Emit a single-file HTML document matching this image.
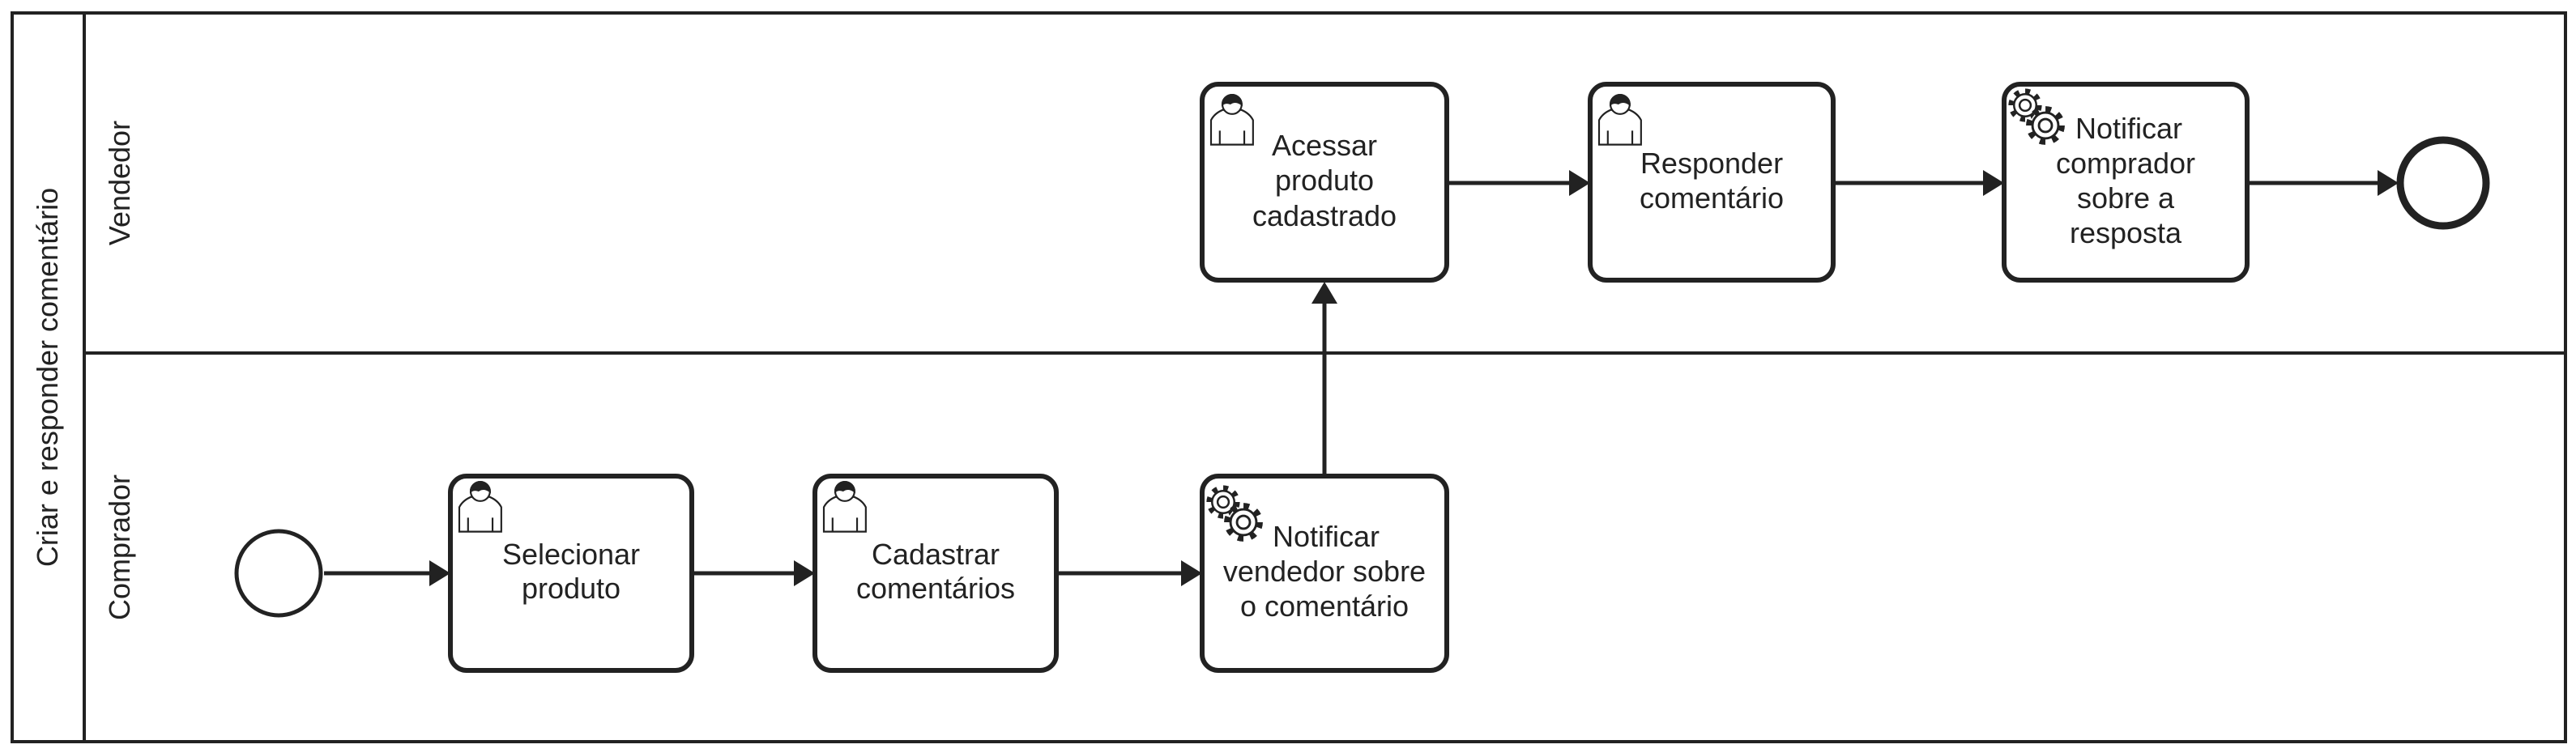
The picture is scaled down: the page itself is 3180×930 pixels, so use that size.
<!DOCTYPE html>
<html><head><meta charset="utf-8"><style>
html,body{margin:0;padding:0;background:#fff;}
svg{display:block;}
text{font-family:"Liberation Sans",Arial,sans-serif;fill:#222;}
</style></head><body>
<svg width="3180" height="930" viewBox="0 0 3180 930" xmlns="http://www.w3.org/2000/svg">
<defs>
<g id="user" fill="none" stroke="#222" stroke-width="2">
  <path d="M0,58 L0,30 Q4,22 14,18 Q24,26 34,18 Q44,22 48,30 L48,58 Z" fill="#fff"/>
  <line x1="10" y1="42" x2="10" y2="58"/><line x1="38" y1="42" x2="38" y2="58"/>
  <circle cx="24" cy="12" r="11" fill="#fff"/>
  <path d="M13,12 A11,11 0 0 1 35,12 Q28,7 22,11 Q17,9 13,12 Z" fill="#222"/>
</g>
<g id="gear1">
  <circle r="13" fill="#fff" stroke="#222" stroke-width="7" stroke-dasharray="4.5 5.7"/>
  <circle r="11" fill="#fff" stroke="#222" stroke-width="2"/>
  <circle r="5.5" fill="#fff" stroke="#222" stroke-width="2"/>
</g>
<g id="gear">
  <use href="#gear1" transform="translate(30,35) scale(1.25)"/>
  <use href="#gear1" transform="translate(55,60) scale(1.45)"/>
</g>
</defs>
<g fill="none" stroke="#222" stroke-width="4">
  <rect x="15" y="16" width="3152" height="900"/>
  <line x1="104" y1="16" x2="104" y2="916"/>
  <line x1="104" y1="436" x2="3167" y2="436"/>
</g>
<text transform="translate(71,466) rotate(-90)" text-anchor="middle" font-size="36">Criar e responder comentário</text>
<text transform="translate(160,226) rotate(-90)" text-anchor="middle" font-size="36">Vendedor</text>
<text transform="translate(160,676) rotate(-90)" text-anchor="middle" font-size="36">Comprador</text>

<g stroke="#222" stroke-width="5" fill="none">
  <line x1="400" y1="708" x2="530" y2="708"/>
  <line x1="855" y1="708" x2="980" y2="708"/>
  <line x1="1305" y1="708" x2="1458" y2="708"/>
  <line x1="1635" y1="586" x2="1635" y2="375"/>
  <line x1="1787" y1="226" x2="1937" y2="226"/>
  <line x1="2263" y1="226" x2="2448" y2="226"/>
  <line x1="2774" y1="226" x2="2935" y2="226"/>
</g>
<g fill="#222">
  <polygon points="530,692 556,708 530,724"/>
  <polygon points="980,692 1006,708 980,724"/>
  <polygon points="1458,692 1484,708 1458,724"/>
  <polygon points="1619,375 1635,348 1651,375"/>
  <polygon points="1937,210 1963,226 1937,242"/>
  <polygon points="2448,210 2474,226 2448,242"/>
  <polygon points="2935,210 2961,226 2935,242"/>
</g>

<circle cx="344" cy="708" r="52" fill="#fff" stroke="#222" stroke-width="5"/>
<circle cx="3016" cy="226" r="53" fill="#fff" stroke="#222" stroke-width="9"/>

<g fill="#fff" stroke="#222" stroke-width="6">
  <rect x="556" y="588" width="298" height="240" rx="20"/>
  <rect x="1006" y="588" width="298" height="240" rx="20"/>
  <rect x="1484" y="588" width="302" height="240" rx="20"/>
  <rect x="1484" y="104" width="302" height="242" rx="20"/>
  <rect x="1963" y="104" width="300" height="242" rx="20"/>
  <rect x="2474" y="104" width="300" height="242" rx="20"/>
</g>
<use href="#user" transform="translate(567,594) scale(1.08)"/>
<use href="#user" transform="translate(1017,594) scale(1.08)"/>
<use href="#user" transform="translate(1495,116) scale(1.08)"/>
<use href="#user" transform="translate(1974,116) scale(1.08)"/>
<use href="#gear" transform="translate(1480,585)"/>
<use href="#gear" transform="translate(2470,95)"/>

<g font-size="36" text-anchor="middle">
  <text x="705" y="697">Selecionar</text><text x="705" y="739">produto</text>
  <text x="1155" y="697">Cadastrar</text><text x="1155" y="739">comentários</text>
  <text x="1637" y="675">Notificar</text><text x="1635" y="718">vendedor sobre</text><text x="1635" y="761">o comentário</text>
  <text x="1635" y="192">Acessar</text><text x="1635" y="235">produto</text><text x="1635" y="279">cadastrado</text>
  <text x="2113" y="214">Responder</text><text x="2113" y="257">comentário</text>
  <text x="2628" y="171">Notificar</text><text x="2624" y="214">comprador</text><text x="2624" y="257">sobre a</text><text x="2624" y="300">resposta</text>
</g>
</svg>
</body></html>
